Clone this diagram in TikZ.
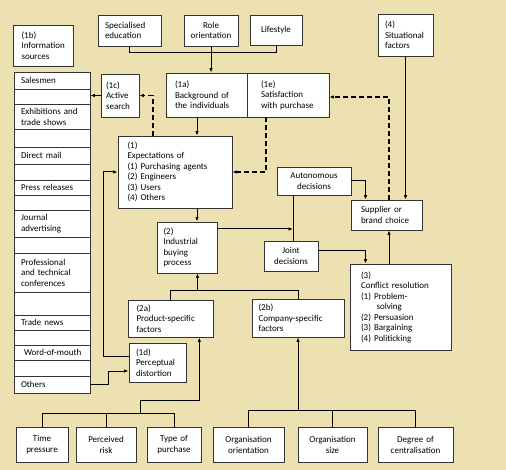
\documentclass[tikz,border=0pt]{standalone}
\usepackage{fontspec}
\setmainfont{Carlito}
\usetikzlibrary{arrows.meta}
\definecolor{bg}{RGB}{237,225,177}
\begin{document}
\begin{tikzpicture}[x=1pt,y=-1pt,
  bx/.style={draw=black!80, fill=white, line width=0.8pt, inner ysep=1pt, align=left,
    font=\fontsize{9}{10.5}\selectfont, text=black},
  cb/.style={bx, align=center, inner xsep=2pt},
  rowbox/.style={bx, text width=62pt, inner xsep=7pt, inner ysep=0pt},
  ln/.style={line width=1pt, black},
  arr/.style={ln, -{Latex[length=4.5pt,width=3.5pt]}},
  dsh/.style={arr, line width=1.2pt, dash pattern=on 5pt off 3pt}]
\fill[bg] (0,0) rectangle (506,470);

% left column
\node[bx, inner xsep=8.5pt, text width=43pt, minimum height=41pt] (n1b) at (43,45.5) {(1b)\\Information\\sources};
\node[rowbox, minimum height=17pt] (r1) at (52,80.5) {Salesmen};
\node[rowbox, minimum height=15pt] (r2) at (52,96.5) {};
\node[rowbox, minimum height=25.5pt] (r3) at (52,116.75) {Exhibitions and\\trade shows};
\node[rowbox, minimum height=17.5pt] (r4) at (52,138.25) {};
\node[rowbox, minimum height=17.5pt] (r5) at (52,155.75) {Direct mail};
\node[rowbox, minimum height=15.5pt] (r6) at (52,172.25) {};
\node[rowbox, minimum height=15pt] (r7) at (52,187.5) {Press releases};
\node[rowbox, minimum height=15.5pt] (r8) at (52,202.75) {};
\node[rowbox, minimum height=26.5pt] (r9) at (52,223.75) {Journal\\advertising};
\node[rowbox, minimum height=16pt] (r10) at (52,245) {};
\node[rowbox, minimum height=39pt] (r11) at (52,272.5) {Professional\\and technical\\conferences};
\node[rowbox, minimum height=23pt] (r12) at (52,303.5) {};
\node[rowbox, minimum height=15.5pt] (r13) at (52,322.75) {Trade news};
\node[rowbox, minimum height=14.5pt] (r14) at (52,337.75) {};
\node[rowbox, minimum height=15.5pt] (r15) at (52,352.75) {\hspace*{3pt}Word-of-mouth};
\node[rowbox, minimum height=15.5pt] (r16) at (52,368.25) {};
\node[rowbox, minimum height=17pt] (r17) at (52,384.5) {Others};

% top
\node[bx, inner xsep=7pt, text width=49pt, minimum height=31pt] (spec) at (129.5,30.5) {Specialised\\education};
\node[cb, text width=50pt, minimum height=31pt] (role) at (211,30.5) {Role\\orientation};
\node[cb, text width=48pt, minimum height=30pt] (life) at (276,30) {Lifestyle};
\node[bx, inner xsep=7pt, text width=41pt, minimum height=42pt] (sit) at (405.5,35) {(4)\\Situational\\factors};

\node[bx, inner xsep=5pt, text width=28pt, minimum height=43pt] (n1c) at (120,95.5) {(1c)\\Active\\search};
\node[bx, inner xsep=9pt, text width=63pt, minimum height=44pt] (n1a) at (206.5,95) {(1a)\\Background of\\the individuals};
\node[bx, inner xsep=14pt, text width=54pt, minimum height=44pt] (n1e) at (288,95) {(1e)\\Satisfaction\\with purchase};

\node[bx, inner xsep=9.5pt, text width=95pt, minimum height=72pt] (n1) at (175,172) {(1)\\Expectations of\\(1) Purchasing agents\\(2) Engineers\\(3) Users\\(4) Others};
\node[cb, text width=70pt, minimum height=28pt] (auto) at (314,181) {Autonomous\\decisions};
\node[bx, inner xsep=10pt, text width=51pt, minimum height=30pt] (supp) at (386.5,215) {Supplier or\\brand choice};
\node[bx, inner xsep=6.5pt, text width=47pt, minimum height=51pt] (n2) at (187,247.5) {(2)\\Industrial\\buying\\process};
\node[cb, text width=50pt, minimum height=30pt] (joint) at (291,256) {Joint\\decisions};
\node[bx, inner xsep=11pt, text width=79pt, minimum height=86pt] (n3) at (400.5,307) {(3)\\Conflict resolution\\(1) Problem-\\\hspace*{15.5pt}solving\\(2) Persuasion\\(3) Bargaining\\(4) Politicking};
\node[bx, inner xsep=8.5pt, text width=68pt, minimum height=37pt] (n2a) at (170.5,318.5) {(2a)\\Product-specific\\factors};
\node[bx, inner xsep=6.5pt, text width=79pt, minimum height=38pt] (n2b) at (298,318) {(2b)\\Company-specific\\factors};
\node[bx, inner xsep=7pt, text width=43pt, minimum height=39pt] (n1d) at (157.5,362.5) {(1d)\\Perceptual\\distortion};

% bottom
\node[cb, text width=48pt, minimum height=34.5pt] (time) at (42,444.75) {Time\\pressure};
\node[cb, text width=56pt, minimum height=34.5pt] (risk) at (106,444.75) {Perceived\\risk};
\node[cb, text width=50pt, minimum height=34.5pt] (type) at (174,444.75) {Type of\\purchase};
\node[cb, text width=67pt, minimum height=34.5pt] (oor) at (248.5,444.75) {Organisation\\orientation};
\node[cb, text width=65pt, minimum height=34.5pt] (osize) at (332.5,444.75) {Organisation\\size};
\node[cb, text width=71pt, minimum height=34.5pt] (degc) at (415.5,444.75) {Degree of\\centralisation};

% connectors
\draw[ln] (spec.south) -- ++(0,6) -| (life.south);
\draw[arr] (role.south) -- (role.south |- n1a.north);
\draw[arr] ([xshift=-9.5pt]n1a.south) -- ([xshift=-9.5pt]n1a.south |- n1.north);
\draw[arr] ([xshift=22pt]n1.south) -- ([xshift=22pt]n1.south |- n2.north);
\draw[dsh] ([xshift=-22pt]n1.north) |- (n1c.east);
\draw[arr] (n1c.west) -- (n1c.west -| r2.east);
\draw[dsh] ([xshift=-22pt]n1e.south) |- (n1.east);
\draw[dsh] ([xshift=2.5pt]supp.north) |- ([yshift=-2pt]n1e.east);
\draw[arr] (sit.south) -- (sit.south |- supp.north);
\draw[arr] (auto.east) -| ([xshift=-21pt]supp.north);
\coordinate (jt) at ([xshift=2pt]joint.north);
\draw[ln] (jt) -- (jt |- auto.south);
\coordinate (n2e) at ([yshift=18.5pt]n2.east);
\draw[arr] (n2e) -- (n2e -| jt);
\coordinate (je) at ([yshift=5pt]joint.east);
\coordinate (c3) at ([xshift=-35pt]n3.north);
\draw[arr] (je) -| (c3);
\coordinate (c3b) at ([xshift=-11.5pt]n3.north);
\draw[arr] (c3b) -- (c3b |- supp.south);
\draw[ln] (n2a.north) -- ++(0,-9) -| (n2b.north);
\coordinate (m) at (197.5,291);
\draw[arr] (m) -- (m |- n2.south);
\draw[arr] ([yshift=6.5pt]n1d.west) -- ++(-24.7,0) |- (n1.west);
\draw[arr] (r17.east) -- ++(18.3,0) |- ([yshift=-8.5pt]n1d.west);
\draw[ln] (time.north) -- ++(0,-13.3) -| (type.north);
\draw[ln] (risk.north) -- ++(0,-13.3);
\coordinate (bl) at (140.7,414.2);
\coordinate (bl2) at (199.3,400);
\draw[arr] (bl) |- (bl2) -- (bl2 |- n2a.south);
\draw[ln] (oor.north) -- ++(0,-16.7) -| (degc.north);
\draw[ln] (osize.north) -- ++(0,-16.7);
\coordinate (br) at (298,410.8);
\draw[arr] (br) -- (n2b.south);
\end{tikzpicture}
\end{document}
